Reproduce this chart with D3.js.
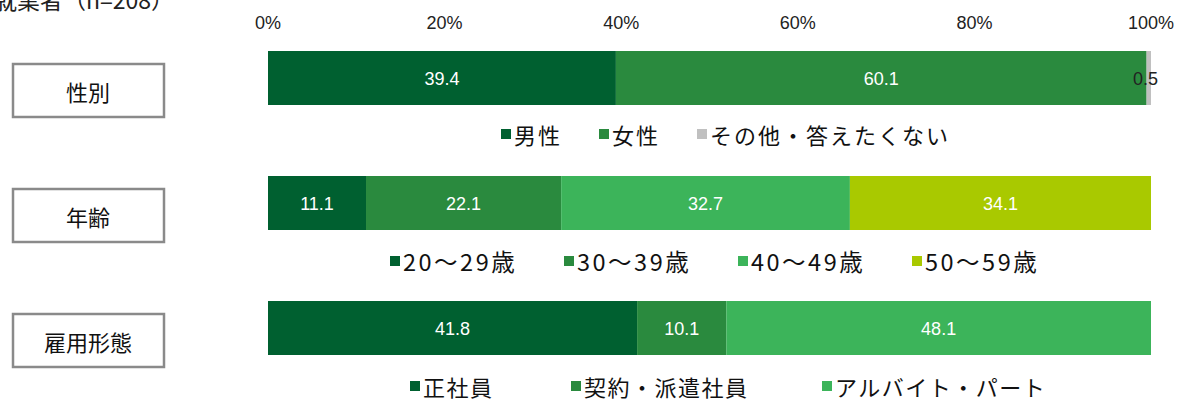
<!DOCTYPE html>
<html>
<head>
<meta charset="utf-8">
<script src="https://cdn.jsdelivr.net/npm/d3@7"></script>
<style>
  body { margin: 0; background: #fff; }
  svg { display: block; font-family: "Noto Sans CJK JP", "Noto Sans", sans-serif; }
  .tick-label { font-family: "Liberation Sans", Arial, sans-serif; font-size: 18px; fill: #222; }
  .val { font-family: "Liberation Sans", Arial, sans-serif; font-size: 18px; }
</style>
</head>
<body>
<script>
let w = 1178;
let h = 401;

let title = "就業者（n=208）";
let categories = ["性別", "年齢", "雇用形態"];
let ticks = [0, 20, 40, 60, 80, 100];

let sexNames = ["男性", "女性", "その他・答えたくない"];
let sexValues = [39.4, 60.1, 0.5];
let ageNames = ["20～29歳", "30～39歳", "40～49歳", "50～59歳"];
let ageValues = [11.1, 22.1, 32.7, 34.1];
let jobNames = ["正社員", "契約・派遣社員", "アルバイト・パート"];
let jobValues = [41.8, 10.1, 48.1];

let sexColors = ["#006030", "#2a8a3e", "#c0c0c0"];
let ageColors = ["#006030", "#2a8a3e", "#3cb45a", "#a9c900"];
let jobColors = ["#006030", "#2a8a3e", "#3cb45a"];

let rows = [
  { cat: categories[0], names: sexNames, values: sexValues, colors: sexColors, legendX: [501, 599, 697], legendDy: 29, ls: 2, fs: 22 },
  { cat: categories[1], names: ageNames, values: ageValues, colors: ageColors, legendX: [390, 564, 738, 912], legendDy: 31, ls: 2.5, fs: 23.5 },
  { cat: categories[2], names: jobNames, values: jobValues, colors: jobColors, legendX: [410, 571, 822], legendDy: 31, ls: 1.5, fs: 22 }
];

let xScale = d3.scaleLinear().domain([0, 100]).range([268, 1151]);
let yScale = d3.scaleBand().domain(categories).range([51, 355]).paddingInner(0.568).paddingOuter(0);

let svg = d3.select("body").append("svg")
  .attr("width", w)
  .attr("height", h);

// title (cut at top)
svg.append("text")
  .attr("x", -6)
  .attr("y", 9)
  .attr("font-size", 23)
  .attr("fill", "#222")
  .text(title);

// top axis labels
svg.selectAll(".tick-label")
  .data(ticks)
  .enter()
  .append("text")
  .attr("class", "tick-label")
  .attr("x", (d) => xScale(d))
  .attr("y", 29)
  .attr("text-anchor", "middle")
  .text((d) => d + "%");

rows.forEach((row) => {
  let y0 = yScale(row.cat);
  let bh = yScale.bandwidth();
  let starts = [];
  let acc = 0;
  row.values.forEach((v) => { starts.push(acc); acc += v; });

  let g = svg.append("g");

  // category box
  g.append("rect")
    .attr("x", 13)
    .attr("y", y0 + 13)
    .attr("width", 151)
    .attr("height", 53)
    .attr("fill", "#fff")
    .attr("stroke", "#8a8a8a")
    .attr("stroke-width", 2.5);

  g.append("text")
    .attr("x", 88)
    .attr("y", y0 + 40)
    .attr("text-anchor", "middle")
    .attr("dominant-baseline", "central")
    .attr("font-size", 22)
    .attr("fill", "#111")
    .text(row.cat);

  // bars
  g.selectAll(".seg")
    .data(row.values)
    .enter()
    .append("rect")
    .attr("x", (d, i) => xScale(starts[i]))
    .attr("y", y0)
    .attr("width", (d) => xScale(d) - xScale(0))
    .attr("height", bh)
    .attr("fill", (d, i) => row.colors[i]);

  // value labels
  g.selectAll(".val")
    .data(row.values)
    .enter()
    .append("text")
    .attr("class", "val")
    .attr("x", (d, i) => d < 2 ? xScale(starts[i]) - 1 : xScale(starts[i] + d / 2))
    .attr("y", y0 + bh / 2 + 1)
    .attr("text-anchor", "middle")
    .attr("dominant-baseline", "central")
    .attr("fill", (d) => d < 2 ? "#222" : "#fff")
    .text((d) => d.toFixed(1));

  // legend
  let ly = y0 + bh + row.legendDy;
  row.names.forEach((n, i) => {
    g.append("rect")
      .attr("x", row.legendX[i])
      .attr("y", ly - 5)
      .attr("width", 10)
      .attr("height", 10)
      .attr("fill", row.colors[i]);
    g.append("text")
      .attr("x", row.legendX[i] + 13)
      .attr("y", ly)
      .attr("dominant-baseline", "central")
      .attr("font-size", row.fs)
      .attr("letter-spacing", row.ls)
      .attr("fill", "#111")
      .text(n);
  });
});
</script>
</body>
</html>
